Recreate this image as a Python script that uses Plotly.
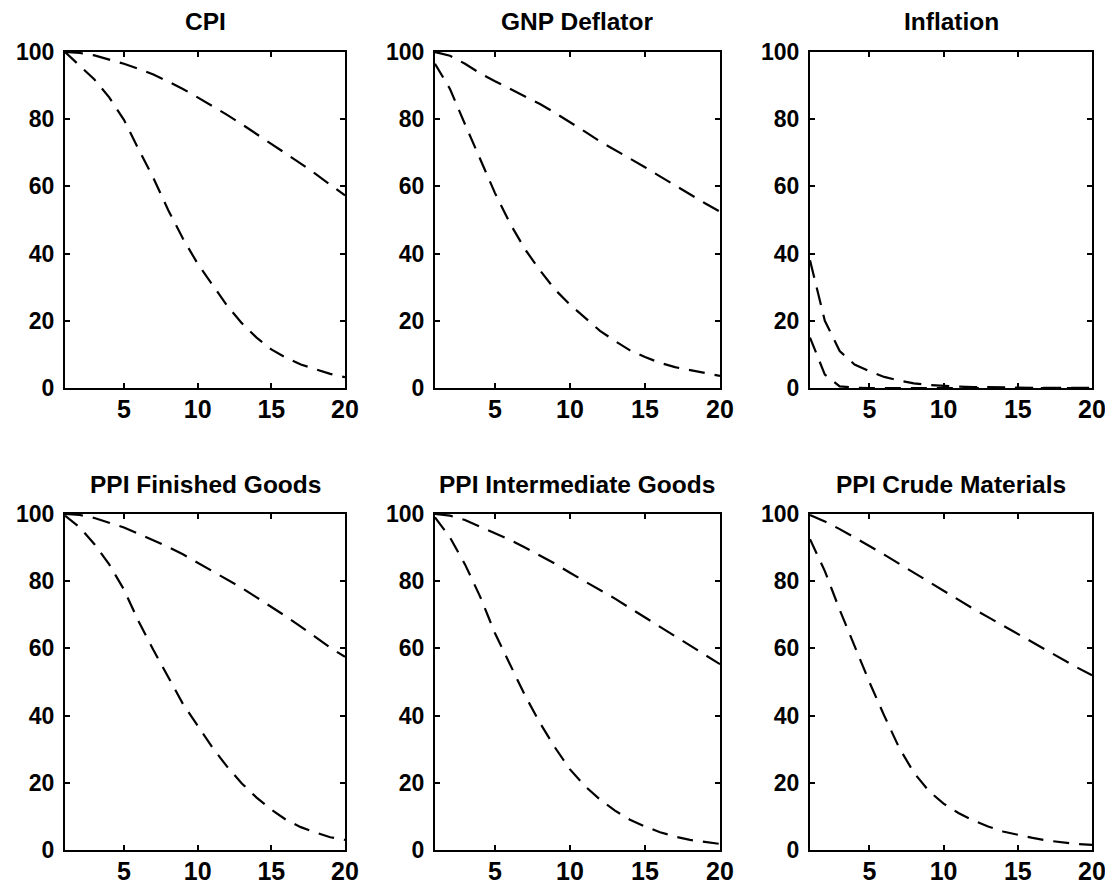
import plotly.graph_objects as go

horizon = list(range(1, 21))

titles = ["CPI", "GNP Deflator", "Inflation",
          "PPI Finished Goods", "PPI Intermediate Goods", "PPI Crude Materials"]

cpi_upper = [100, 99.7, 99, 97.8, 96.5, 95, 93.3, 91.2, 89, 86.5,
             84, 81.3, 78.5, 75.6, 72.7, 69.8, 66.8, 63.7, 60.5, 57.3]
cpi_lower = [100, 96, 91.8, 86.5, 79.8, 71, 62.5, 53, 44.5, 37,
             30.8, 24.5, 19.3, 15, 11.5, 9, 7, 5.5, 4.2, 3.2]

gnp_upper = [100, 98.9, 96.5, 93.7, 91.3, 89, 86.8, 84.5, 81.9, 79.2,
             76.3, 73.4, 70.9, 68.3, 65.7, 63, 60.3, 57.6, 55, 52.5]
gnp_lower = [96.5, 89, 78.5, 68, 58, 49, 41.3, 35, 29.3, 24.8,
             20.8, 17, 14, 11.2, 9.2, 7.5, 6.2, 5.4, 4.4, 3.6]

infl_upper = [38, 20, 11, 7, 5, 3.3, 2.2, 1.4, 0.9, 0.6,
              0.4, 0.3, 0.2, 0.15, 0.1, 0.07, 0.05, 0.03, 0.02, 0.01]
infl_lower = [15, 4, 0.5, 0.1, 0, 0, 0, 0, 0, 0,
              0, 0, 0, 0, 0, 0, 0, 0, 0, 0]

ppif_upper = [100, 99.7, 98.8, 97.5, 96, 94.1, 92.2, 90.2, 88, 85.5,
              83, 80.5, 78, 75.2, 72.4, 69.5, 66.5, 63.3, 60.2, 57.5]
ppif_lower = [99.5, 96, 91, 85, 77.5, 68, 59.5, 51.5, 43.5, 37,
              30.5, 24.8, 19.8, 15.6, 12, 9, 6.8, 5.2, 3.8, 3]

ppii_upper = [100, 99.5, 98.2, 96.3, 94.3, 92.3, 90, 87.7, 85.2, 82.5,
              79.9, 77.5, 74.8, 72, 69.2, 66.4, 63.6, 60.7, 58, 55.3]
ppii_lower = [99, 93, 85, 75.5, 64.5, 55, 46, 37.8, 30.5, 24,
              19, 15, 11.7, 9, 7, 5.3, 4, 3, 2.3, 1.8]

ppic_upper = [99.7, 97.8, 95.5, 93.1, 90.5, 87.9, 85.2, 82.5, 79.8, 77.2,
              74.5, 71.8, 69.3, 66.8, 64.3, 61.8, 59.2, 56.7, 54.3, 52]
ppic_lower = [92.5, 83, 71.5, 60.5, 50, 40, 30.5, 23, 17.6, 13.8,
              11, 8.8, 7, 5.5, 4.5, 3.6, 2.8, 2.2, 1.8, 1.5]

series = [(cpi_upper, cpi_lower), (gnp_upper, gnp_lower), (infl_upper, infl_lower),
          (ppif_upper, ppif_lower), (ppii_upper, ppii_lower), (ppic_upper, ppic_lower)]

y_ticks = [0, 20, 40, 60, 80, 100]
x_ticks = [5, 10, 15, 20]

# page body has an 8px margin: size the figure so it fills the rest of the window
OFF = 8
W, H = 1113 - OFF, 890 - OFF
col_px = [(65, 345), (435, 720), (810, 1092)]
row_px = [(52, 388), (514, 850)]

FONT = "Liberation Sans, Arial, Helvetica, sans-serif"

fig = go.Figure()
layout = dict(
    width=W, height=H,
    margin=dict(l=0, r=0, t=0, b=0),
    paper_bgcolor="white", plot_bgcolor="white",
    showlegend=False,
    font=dict(family=FONT, size=22, color="black"),
    annotations=[],
)

for i, (title, (up, lo)) in enumerate(zip(titles, series)):
    r, c = divmod(i, 3)
    n = i + 1
    xa = "xaxis" if n == 1 else f"xaxis{n}"
    ya = "yaxis" if n == 1 else f"yaxis{n}"
    xref = "x" if n == 1 else f"x{n}"
    yref = "y" if n == 1 else f"y{n}"
    x0, x1 = (p - OFF for p in col_px[c])
    y0, y1 = (p - OFF for p in row_px[r])
    common = dict(showline=True, linecolor="black", linewidth=2, mirror="ticks",
                  ticks="inside", ticklen=5, tickwidth=1.5, tickcolor="black",
                  showgrid=False, zeroline=False, automargin=False)
    layout[xa] = dict(domain=[x0 / W, x1 / W], range=[1, 20], tickvals=x_ticks,
                      anchor=yref, ticklabelstandoff=-2,
                      tickfont=dict(family=FONT, size=25, color="black", weight="bold"),
                      **common)
    layout[ya] = dict(domain=[1 - y1 / H, 1 - y0 / H], range=[0, 100], tickvals=y_ticks,
                      anchor=xref, ticklabelstandoff=4,
                      tickfont=dict(family=FONT, size=23, color="black", weight="bold"),
                      **common)
    for vals, dash in ((up, "18px,10px"), (lo, "16px,10px")):
        fig.add_trace(go.Scatter(x=horizon, y=vals, mode="lines", xaxis=xref, yaxis=yref,
                                 line=dict(color="black", width=2.2, dash=dash),
                                 hoverinfo="skip"))
    layout["annotations"].append(dict(
        text=f"<b>{title}</b>", xref="paper", yref="paper",
        x=(x0 + x1) / 2 / W, y=1 - (y0 - 30) / H, xanchor="center", yanchor="middle",
        showarrow=False, font=dict(family=FONT, size=24.5, color="black")))

fig.update_layout(**layout)
fig.write_html("out.html")
